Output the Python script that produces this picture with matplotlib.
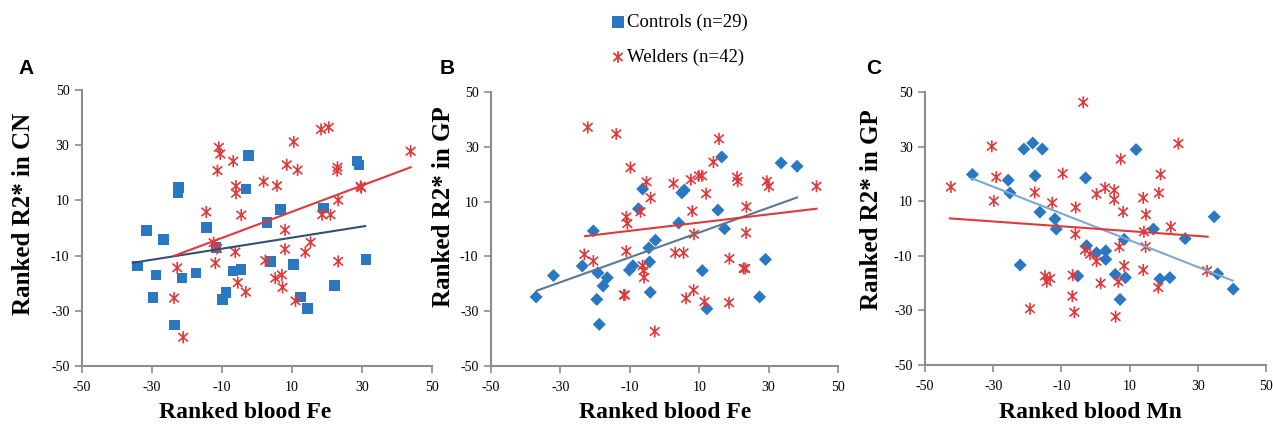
import matplotlib
matplotlib.use("Agg")
import matplotlib.pyplot as plt
from matplotlib.path import Path
import numpy as np

# ---------------- data ----------------
# Panel A: Ranked blood Fe vs Ranked R2* in CN
a_ctrl_x = [-34.2, -31.6, -26.7, -28.8, -29.7, -22.4, -22.6, -21.4, -23.6, -17.4, -14.5, -11.7,
            -9.9, -8.8, -6.8, -4.6, -3.2, -2.5, 2.8, 3.9, 6.7, 10.4, 12.4, 14.4, 19.0, 22.1,
            28.6, 29.2, 31.1]
a_ctrl_y = [-13.8, -1.0, -4.1, -17.1, -25.1, 14.6, 12.8, -18.1, -35.1, -16.3, 0.2, -7.1,
            -26.0, -23.3, -15.5, -15.0, 14.1, 26.2, 1.9, -12.2, 6.8, -13.2, -25.0, -29.2, 7.2,
            -20.9, 24.2, 22.9, -11.4]
a_weld_x = [-10.9, -10.5, -11.3, -6.8, -6.0, -6.0, -14.5, -4.5, -12.4, -11.4, -11.9, -6.2,
            -22.8, -23.7, -21.1, -5.5, -3.2, 1.9, 5.7, 2.4, 8.0, 8.0, 5.2, 7.1, 7.3, 8.5,
            10.5, 11.6, 11.0, 13.8, 15.3, 18.3, 20.5, 18.6, 21.0, 23.0, 22.9, 23.2, 23.2,
            29.6, 29.8, 43.9]
a_weld_y = [29.2, 26.8, 20.8, 24.2, 15.2, 12.6, 5.8, 4.7, -5.3, -7.4, -12.7, -8.7,
            -14.4, -25.4, -39.6, -19.8, -23.2, 16.8, 15.3, -11.8, -0.7, -7.7, -18.2, -17.0,
            -21.5, 22.9, 31.2, 21.0, -26.4, -8.8, -5.2, 35.7, 36.5, 4.8, 4.8, 22.0, 20.8,
            10.1, -12.1, 15.1, 14.6, 27.8]
a_fit_ctrl_x = [-35.5, 30.9]
a_fit_ctrl_y = [-12.6, 0.7]
a_fit_weld_x = [-23.7, 43.9]
a_fit_weld_y = [-10.1, 22.0]

# Panel B: Ranked blood Fe vs Ranked R2* in GP
b_ctrl_x = [-37.0, -32.0, -23.7, -20.5, -19.2, -19.5, -18.8, -17.7, -16.5, -10.1, -9.1, -7.5,
            -6.3, -4.5, -4.3, -2.6, -4.1, 4.1, 5.0, 5.7, 10.9, 12.2, 15.4, 16.5, 17.3, 27.4,
            29.1, 33.6, 38.2]
b_ctrl_y = [-24.8, -17.0, -13.5, -0.7, -16.0, -25.7, -34.8, -20.8, -17.8, -15.0, -13.4, 7.4,
            14.6, -6.9, -12.0, -4.1, -23.1, 2.2, 13.2, 14.2, -15.2, -29.1, 6.9, 26.3, 0.1,
            -24.8, -11.1, 24.1, 22.9]
b_weld_x = [-22.1, -13.9, -9.8, -23.1, -20.5, -11.0, -10.7, -11.0, -11.7, -11.4, -5.2, -4.0,
            -6.9, -6.3, -6.0, -5.9, -2.8, 2.6, 3.1, 5.5, 7.6, 8.0, 8.5, 6.2, 8.4, 9.9, 10.8,
            12.0, 11.5, 14.1, 15.7, 18.7, 18.6, 20.9, 21.1, 23.6, 23.5, 22.8, 23.3, 29.5,
            30.1, 43.8]
b_weld_y = [37.1, 34.7, 22.4, -9.3, -11.7, 4.4, 2.0, -8.1, -24.1, -24.1, 17.2, 11.4,
            6.3, -13.4, -15.2, -17.7, -37.4, 16.6, -8.7, -8.7, 18.0, 6.5, -1.9, -25.3, -22.3,
            19.4, 19.4, 12.9, -26.5, 24.4, 32.9, -10.8, -26.9, 18.9, 17.4, 8.1, -1.4, -14.4,
            -14.4, 17.4, 15.6, 15.6]
b_fit_ctrl_x = [-36.8, 38.2]
b_fit_ctrl_y = [-22.5, 11.5]
b_fit_weld_x = [-22.9, 43.8]
b_fit_weld_y = [-2.6, 7.4]

# Panel C: Ranked blood Mn vs Ranked R2* in GP
c_ctrl_x = [-36.1, -25.6, -25.1, -22.1, -21.0, -18.4, -15.6, -17.7, -16.3, -11.9, -11.5, -2.9,
            -2.6, 0.3, 3.0, 3.0, 5.8, 7.2, 8.4, 8.8, 11.9, -5.2, 17.0, 18.9, 21.8, 26.3,
            34.8, 35.8, 40.4]
c_ctrl_y = [19.8, 17.7, 13.0, -13.4, 29.1, 31.3, 29.1, 19.3, 6.0, 3.5, -0.2, 18.5,
            -6.3, -8.9, -8.2, -11.3, -16.8, -26.0, -4.0, -18.0, 28.9, -17.4, -0.2, -18.5,
            -18.0, -3.7, 4.3, -16.6, -22.2]
c_weld_x = [-42.4, -30.4, -29.8, -29.1, -19.2, -17.8, -14.8, -14.3, -13.3, -12.7, -9.6, -6.7,
            -6.8, -6.2, -5.8, -5.9, -3.6, -3.1, -1.6, 0.3, 0.3, 1.5, 2.8, 5.5, 5.5, 7.0,
            7.4, 6.7, 5.9, 8.1, 8.4, 14.0, 14.2, 14.0, 14.8, 14.7, 18.6, 19.1, 18.4, 22.1,
            24.3, 32.7]
c_weld_y = [15.2, 30.1, 10.1, 18.8, -29.4, 13.2, -17.4, -19.5, -18.3, 9.4, 20.1, -17.1,
            -24.8, -30.7, 7.7, -2.1, 46.2, -7.9, -9.4, 12.6, -12.0, -20.1, 14.9, 14.0, 10.6,
            -6.7, 25.4, -19.5, -32.3, 6.1, -13.7, 11.2, -1.2, -15.2, 5.1, -6.7, 13.0, 19.8,
            -21.6, 0.6, 31.1, -15.5]
c_fit_ctrl_x = [-36.1, 40.2]
c_fit_ctrl_y = [18.3, -19.1]
c_fit_weld_x = [-42.7, 32.9]
c_fit_weld_y = [3.7, -3.0]

ticks = [-50, -30, -10, 10, 30, 50]
panel_letters = ["A", "B", "C"]
y_labels = ["Ranked R2* in CN", "Ranked R2* in GP", "Ranked R2* in GP"]
x_labels = ["Ranked blood Fe", "Ranked blood Fe", "Ranked blood Mn"]
legend_labels = ["Controls (n=29)", "Welders (n=42)"]

# ---------------- style ----------------
BLUE = "#2a78c2"
RED = "#e0393b"
SPINE = "#8c8c8c"
serif = ["Liberation Serif", "DejaVu Serif"]

# star marker: vertical bar plus an X
star = Path([(0, -1), (0, 1), (-0.8, -0.7), (0.8, 0.7), (-0.8, 0.7), (0.8, -0.7)],
            [Path.MOVETO, Path.LINETO, Path.MOVETO, Path.LINETO, Path.MOVETO, Path.LINETO])

fig = plt.figure(figsize=(12.73, 4.34), dpi=100)

H = 434.0
W = 1273.0
boxes = [(82, 90, 432, 366), (491, 92, 838, 366), (925, 92, 1266, 365)]
ylabel_pos = [(24, 214), (444, 207), (871, 210)]
xlabel_pos = [(245, 412), (665, 412), (1090, 412)]

panels = [
    (a_ctrl_x, a_ctrl_y, a_weld_x, a_weld_y, a_fit_ctrl_x, a_fit_ctrl_y, a_fit_weld_x, a_fit_weld_y, "s", "#34506e"),
    (b_ctrl_x, b_ctrl_y, b_weld_x, b_weld_y, b_fit_ctrl_x, b_fit_ctrl_y, b_fit_weld_x, b_fit_weld_y, "D", "#5d7790"),
    (c_ctrl_x, c_ctrl_y, c_weld_x, c_weld_y, c_fit_ctrl_x, c_fit_ctrl_y, c_fit_weld_x, c_fit_weld_y, "D", "#7fa8cf"),
]

for i, (box, p) in enumerate(zip(boxes, panels)):
    x0, y0, x1, y1 = box
    ax = fig.add_axes([x0 / W, 1 - y1 / H, (x1 - x0) / W, (y1 - y0) / H])
    cx, cy, wx, wy, fcx, fcy, fwx, fwy, mk, fitcol = p
    msize = 8 if mk == "s" else 7
    ax.scatter(cx, cy, marker=mk, s=msize ** 2 * 0.9, color=BLUE, edgecolors="none", zorder=3)
    ax.scatter(wx, wy, marker=star, s=75, facecolors="none", edgecolors=RED, linewidths=1.2, zorder=3)
    ax.plot(fcx, fcy, color=fitcol, lw=1.5, zorder=4)
    ax.plot(fwx, fwy, color=RED, lw=1.5, zorder=4)
    ax.set_xlim(-50, 50)
    ax.set_ylim(-50, 50)
    ax.set_xticks(ticks)
    ax.set_yticks(ticks)
    ax.set_xticklabels([str(t) for t in ticks], family=serif, fontsize=10)
    ax.set_yticklabels([str(t) for t in ticks], family=serif, fontsize=10)
    for s in ["top", "right"]:
        ax.spines[s].set_visible(False)
    for s in ["left", "bottom"]:
        ax.spines[s].set_color(SPINE)
        ax.spines[s].set_linewidth(1.5)
    ax.tick_params(direction="out", length=5, width=1.2, color=SPINE, pad=4)
    ax.tick_params(axis="x", pad=6)
    ax.set_facecolor("none")
    fig.text(xlabel_pos[i][0] / W, 1 - xlabel_pos[i][1] / H, x_labels[i], family=serif,
             fontsize=17, fontweight="bold", ha="center", va="center")
    fig.text(ylabel_pos[i][0] / W, 1 - ylabel_pos[i][1] / H, y_labels[i], family=serif,
             fontsize=18, fontweight="bold", ha="center", va="center", rotation=90)

# panel letters
for letter, lx in zip(panel_letters, [18, 440, 866]):
    fig.text(lx / W, 1 - 68 / H, letter, family=["Liberation Sans", "DejaVu Sans"],
             fontsize=15, fontweight="bold", ha="left", va="center")

# legend
lax = fig.add_axes([0, 0, 1, 1], facecolor="none")
lax.set_xlim(0, W)
lax.set_ylim(H, 0)
lax.axis("off")
lax.scatter([618], [22], marker="s", s=80, color=BLUE, edgecolors="none")
lax.scatter([618], [57], marker=star, s=70, facecolors="none", edgecolors=RED, linewidths=1.3)
lax.text(627, 22, legend_labels[0], family=serif, fontsize=13.5, va="center", ha="left")
lax.text(627, 57, legend_labels[1], family=serif, fontsize=13.5, va="center", ha="left")

fig.savefig("out.png", dpi=100)
